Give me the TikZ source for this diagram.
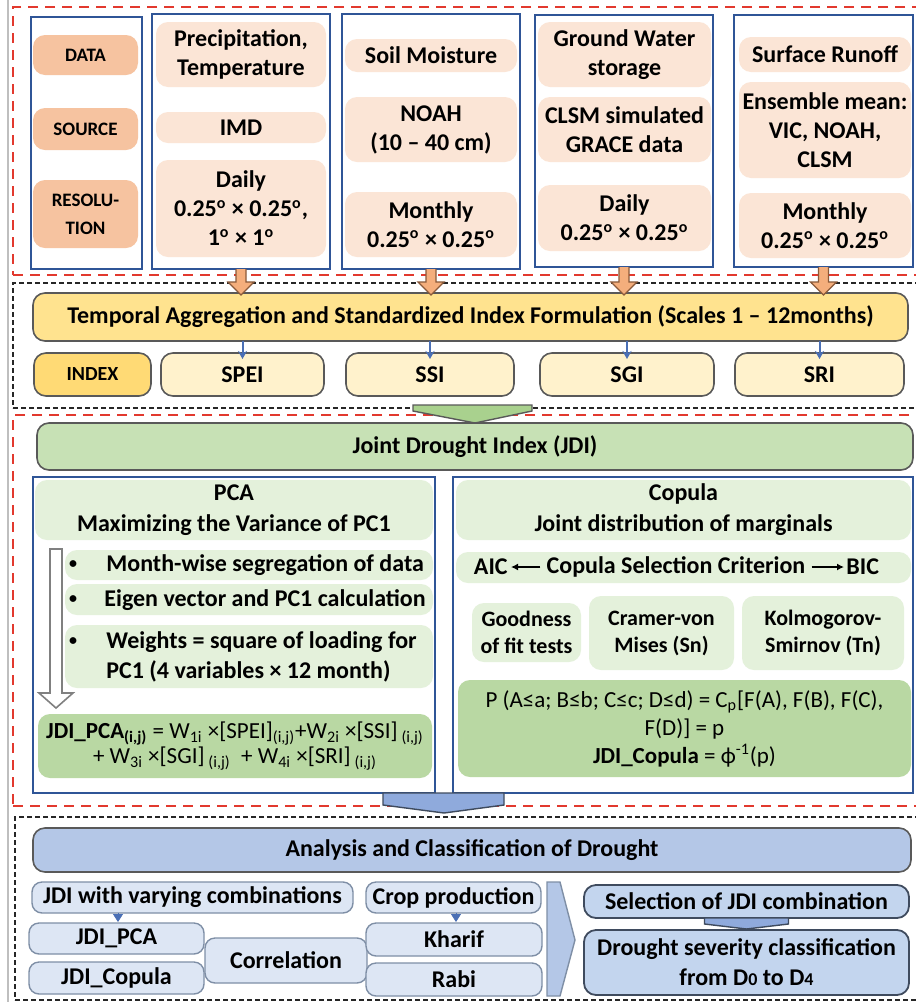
\documentclass[tikz,border=0pt]{standalone}
\usepackage{fontspec}
\setmainfont{Carlito}
\usetikzlibrary{calc,arrows.meta}
\definecolor{redD}{HTML}{E2392E}
\definecolor{colblue}{HTML}{2F5597}
\definecolor{peachD}{HTML}{F6C3A0}
\definecolor{peachL}{HTML}{FBE5D6}
\definecolor{orgA}{HTML}{F4AE7C}
\definecolor{orgD}{HTML}{8A5A3A}
\definecolor{yelT}{HTML}{FFE38F}
\definecolor{yelI}{HTML}{FFDA75}
\definecolor{yelL}{HTML}{FFF2CC}
\definecolor{gryO}{HTML}{595959}
\definecolor{grnJ}{HTML}{C7E1B5}
\definecolor{grnL}{HTML}{E4F1DB}
\definecolor{grnF}{HTML}{B9D8A3}
\definecolor{grnA}{HTML}{A9D18E}
\definecolor{bluA}{HTML}{B4C7E7}
\definecolor{bluL}{HTML}{DDE6F4}
\definecolor{bluM}{HTML}{C3D5EE}
\definecolor{bluC}{HTML}{8FAADC}
\definecolor{bluT}{HTML}{4A6FB5}
\definecolor{bluO}{HTML}{7F8FA6}
\definecolor{bluD}{HTML}{3F4B5E}
\newcommand\mybx[7]{%
  \pgfmathsetmacro\bxcx{(#3+#5)/2}%
  \pgfmathsetmacro\bxcy{(#4+#6)/2}%
  \pgfmathsetmacro\bxw{(#5-#3)*0.5}%
  \pgfmathsetmacro\bxh{(#6-#4)*0.5}%
  \node[inner sep=0pt,outer sep=0pt,align=center,#2,minimum width=\bxw pt,minimum height=\bxh pt] (#1) at (\bxcx,\bxcy) {#7};}
\newcommand\dg{\textsuperscript{o}}
\begin{document}
\begin{tikzpicture}[x=0.5pt,y=-0.5pt,
  redsec/.style={draw=redD,line width=1.4pt,dash pattern=on 5pt off 3.5pt},
  blksec/.style={draw=black!85,line width=0.8pt,dash pattern=on 2.6pt off 1.4pt},
  colbox/.style={draw=colblue,line width=1pt,fill=white},
  pill/.style={rounded corners=6pt},
  lab/.style={pill,fill=peachD,font=\fontsize{9.5}{14}\selectfont\bfseries},
  dat/.style={pill,fill=peachL,font=\fontsize{12}{14.5}\selectfont\bfseries},
  ybox/.style={pill,draw=gryO,line width=0.8pt,fill=#1,font=\fontsize{12}{14.5}\selectfont\bfseries},
  gbox/.style={pill,draw=gryO,line width=0.8pt,fill=grnJ,font=\fontsize{12}{14.5}\selectfont\bfseries},
  gpill/.style={pill,fill=grnL,font=\fontsize{12}{15.5}\selectfont\bfseries},
  spill/.style={pill,fill=grnL,font=\fontsize{11}{13.5}\selectfont\bfseries},
  fpill/.style={pill,fill=grnF,font=\fontsize{11.5}{12.5}\selectfont},
  cpill/.style={pill,fill=grnF,font=\fontsize{11.5}{14}\selectfont},
  t12/.style={inner sep=0pt,font=\fontsize{12}{15}\selectfont\bfseries},
  bul/.style={inner sep=0pt,font=\fontsize{8}{10}\selectfont\bfseries},
  ana/.style={pill,draw=gryO,line width=0.8pt,fill=bluA,font=\fontsize{12}{14.5}\selectfont\bfseries},
  sbox/.style={rounded corners=5pt,draw=bluO,line width=0.7pt,fill=bluL,font=\fontsize{12}{14.5}\selectfont\bfseries},
  mbox/.style={rounded corners=6pt,draw=bluD,line width=0.9pt,fill=bluM,font=\fontsize{12}{15}\selectfont\bfseries},
  orarrow/.style={fill=orgA,draw=orgD,line width=0.6pt,line join=miter},
  bcon/.style={draw=bluT,line width=1pt,-{Stealth[length=4pt,width=4.5pt]}},
  tri/.style={draw=bluT,fill=bluT,line width=0.4pt,-{Triangle[length=4pt,width=5pt]}},
  tarr/.style={draw=black,line width=0.8pt,-{Latex[length=3.5pt,width=3.5pt]}},
  warr/.style={fill=white,draw=black!50,line width=0.8pt},
  gchev/.style={fill=grnA,draw=gryO,line width=0.7pt},
  bchev/.style={fill=bluC,draw=bluD,line width=0.7pt}
]
\path[use as bounding box,fill=white] (0,0) rectangle (916,1002);
\draw[black!25,line width=0.6pt] (8,0) -- (8,1002);
% section frames
\mybx{secA}{redsec}{13}{7}{920}{275}{}
\mybx{secB}{blksec}{13}{283}{920}{408}{}
\mybx{secC}{redsec}{13}{415}{920}{806}{}
\mybx{secD}{blksec}{15}{817}{920}{1000}{}
% data columns
\mybx{c0}{colbox}{31}{17}{142}{269}{}
\mybx{c1}{colbox}{152}{14}{330}{269}{}
\mybx{c2}{colbox}{342}{14}{520}{269}{}
\mybx{c3}{colbox}{535}{15}{713}{267}{}
\mybx{c4}{colbox}{734}{15}{913}{267}{}
\mybx{ld}{lab}{33}{35}{138}{75}{DATA}
\mybx{ls}{lab}{33}{108}{138}{150}{SOURCE}
\mybx{lr}{lab}{33}{180}{138}{248}{RESOLU-\\TION}
\mybx{p1a}{dat}{156}{22}{326}{87}{Precipitation,\\Temperature}
\mybx{p1b}{dat}{156}{112}{326}{143}{IMD}
\mybx{p1c}{dat}{156}{160}{326}{257}{Daily\\0.25\dg{} × 0.25\dg,\\1\dg{} × 1\dg}
\mybx{p2a}{dat}{345}{39}{517}{72}{Soil Moisture}
\mybx{p2b}{dat}{345}{97}{517}{162}{NOAH\\(10 – 40 cm)}
\mybx{p2c}{dat}{345}{192}{517}{257}{Monthly\\0.25\dg{} × 0.25\dg}
\mybx{p3a}{dat}{538}{22}{711}{87}{Ground Water\\storage}
\mybx{p3b}{dat}{538}{97}{711}{162}{CLSM simulated\\GRACE data}
\mybx{p3c}{dat}{538}{185}{711}{251}{Daily\\0.25\dg{} × 0.25\dg}
\mybx{p4a}{dat}{739}{37}{911}{72}{Surface Runoff}
\mybx{p4b}{dat}{739}{82}{911}{178}{Ensemble mean:\\VIC, NOAH,\\CLSM}
\mybx{p4c}{dat}{739}{193}{911}{258}{Monthly\\0.25\dg{} × 0.25\dg}
% index section
\mybx{tem}{ybox=yelT}{33}{293}{908}{341}{Temporal Aggregation and Standardized Index Formulation (Scales 1 – 12months)}
\mybx{idx}{ybox=yelI}{34}{353}{151}{396}{\fontsize{10}{12}\selectfont INDEX}
\mybx{spei}{ybox=yelL}{161}{353}{324}{396}{SPEI}
\mybx{ssi}{ybox=yelL}{346}{353}{514}{396}{SSI}
\mybx{sgi}{ybox=yelL}{540}{353}{714}{396}{SGI}
\mybx{sri}{ybox=yelL}{735}{353}{904}{396}{SRI}
\foreach \c in {c1,c2,c3,c4}{
  \draw[orarrow] ($(\c.south)+(-5,0)$) -- ($(\c.south|-tem.north)+(-5,-11)$) -- ($(\c.south|-tem.north)+(-13,-11)$) -- ($(\c.south|-tem.north)+(0,2)$) -- ($(\c.south|-tem.north)+(13,-11)$) -- ($(\c.south|-tem.north)+(5,-11)$) -- ($(\c.south)+(5,0)$);
}
\foreach \n in {spei,ssi,sgi,sri}{
  \draw[bcon] (tem.south -| \n.north) -- ($(\n.north)+(0,6)$);
}
% JDI section
\mybx{jdi}{gbox}{37}{423}{913}{470}{Joint Drought Index (JDI)}
\draw[gchev] ($(jdi.north)+(-62,-18)$) -- ($(jdi.north)+(57,-18)$) -- ($(jdi.north)+(57,-12)$) -- (jdi.north) -- ($(jdi.north)+(-62,-12)$) -- cycle;
\mybx{pca}{colbox}{33}{477}{435}{793}{}
\mybx{cop}{colbox}{453}{477}{913}{793}{}
\mybx{pcah}{gpill}{35}{480}{433}{540}{PCA\\Maximizing the Variance of PC1}
\mybx{b1}{gpill}{65}{550}{433}{580}{}
\mybx{b2}{gpill}{65}{584}{433}{615}{}
\mybx{b3}{gpill}{65}{625}{433}{688}{}
\node[bul] (d1) at (73,565) {•};
\node[bul] (d2) at (73,600) {•};
\node[bul] (d3) at (73,642) {•};
\node[t12,anchor=west] (e1) at (106,565) {Month-wise segregation of data};
\node[t12,anchor=west] (e2) at (104,600) {Eigen vector and PC1 calculation};
\node[t12,anchor=west,align=left] (e3) at (106,657) {Weights = square of loading for\\PC1 (4 variables × 12 month)};
\mybx{pform}{fpill}{38}{714}{432}{778}{{\bfseries JDI\_PCA\textsubscript{(i,j)}} = W\textsubscript{1i} ×[SPEI]\textsubscript{(i,j)}+W\textsubscript{2i} ×[SSI]\,\textsubscript{(i,j)}\\+ W\textsubscript{3i} ×[SGI]\,\textsubscript{(i,j)} \ + W\textsubscript{4i} ×[SRI]\,\textsubscript{(i,j)}}
\coordinate (wa) at (56,549);
\coordinate (wb) at (56,708);
\draw[warr] ($(wa)+(-6,0)$) -- ($(wb)+(-6,-15)$) -- ($(wb)+(-17,-15)$) -- (wb) -- ($(wb)+(17,-15)$) -- ($(wb)+(6,-15)$) -- ($(wa)+(6,0)$) -- cycle;
\mybx{coph}{gpill}{456}{480}{911}{540}{Copula\\Joint distribution of marginals}
\mybx{aicp}{gpill}{456}{552}{911}{583}{}
\node[t12] (csc) at (676,567) {Copula Selection Criterion};
\node[t12,anchor=east] (aic) at (508,567) {AIC};
\node[t12,anchor=west] (bic) at (846,567) {BIC};
\draw[tarr,shorten <=3pt,shorten >=1.5pt] (csc.west) -- (aic.east);
\draw[tarr,shorten <=3pt,shorten >=1pt] (csc.east) -- (bic.west);
\mybx{gof}{spill}{472}{603}{581}{662}{Goodness\\of fit tests}
\mybx{cvm}{spill}{589}{596}{734}{670}{Cramer-von\\Mises (Sn)}
\mybx{ks}{spill}{742}{596}{904}{670}{Kolmogorov-\\Smirnov (Tn)}
\mybx{cform}{cpill}{458}{680}{911}{777}{P (A≤a; B≤b; C≤c; D≤d) = C\textsubscript{p}[F(A), F(B), F(C),\\F(D)] = p\\{\bfseries JDI\_Copula} = ϕ\textsuperscript{-1}(p)}
\coordinate (bc) at ($(pca.south east)!0.5!(cop.south west)$);
\draw[bchev] ($(bc)+(-61,0)$) -- ($(bc)+(60,0)$) -- ($(bc)+(60,12)$) -- ($(bc)+(0,20)$) -- ($(bc)+(-61,12)$) -- cycle;
% analysis section
\mybx{ana}{ana}{33}{828}{911}{872}{Analysis and Classification of Drought}
\mybx{jvc}{sbox}{32}{882}{353}{913}{JDI with varying combinations}
\mybx{crop}{sbox}{366}{882}{541}{913}{Crop production}
\mybx{jpca}{sbox}{29}{923}{204}{954}{JDI\_PCA}
\mybx{jcop}{sbox}{29}{962}{204}{994}{JDI\_Copula}
\mybx{corr}{sbox}{205}{938}{367}{983}{Correlation}
\mybx{kha}{sbox}{366}{923}{542}{956}{Kharif}
\mybx{rabi}{sbox}{366}{963}{542}{996}{Rabi}
\draw[tri] ($(jvc.south west)+(86,0)$) -- ($(jpca.north west)+(89,-1)$);
\draw[tri] ($(crop.south west)+(90,0)$) -- ($(kha.north west)+(90,-1)$);
\draw[fill=bluA,draw=bluO,line width=0.7pt] ($(crop.north east)+(6,0)$) -- ($(crop.north east)+(19,0)$) -- (575,940) -- ($(rabi.south east)+(18,0)$) -- ($(rabi.south east)+(5,0)$) -- cycle;
\mybx{sel}{mbox}{584}{885}{909}{918}{Selection of JDI combination}
\mybx{dro}{mbox}{584}{930}{909}{995}{Drought severity classification\\from D{\fontsize{9}{9}\selectfont 0} to D{\fontsize{9}{9}\selectfont 4}}
\draw[bchev] ($(sel.south)+(-42,0)$) -- ($(sel.south)+(42,0)$) -- ($(sel.south)+(42,6)$) -- ($(dro.north)+(0,-1)$) -- ($(sel.south)+(-42,6)$) -- cycle;
\end{tikzpicture}
\end{document}
